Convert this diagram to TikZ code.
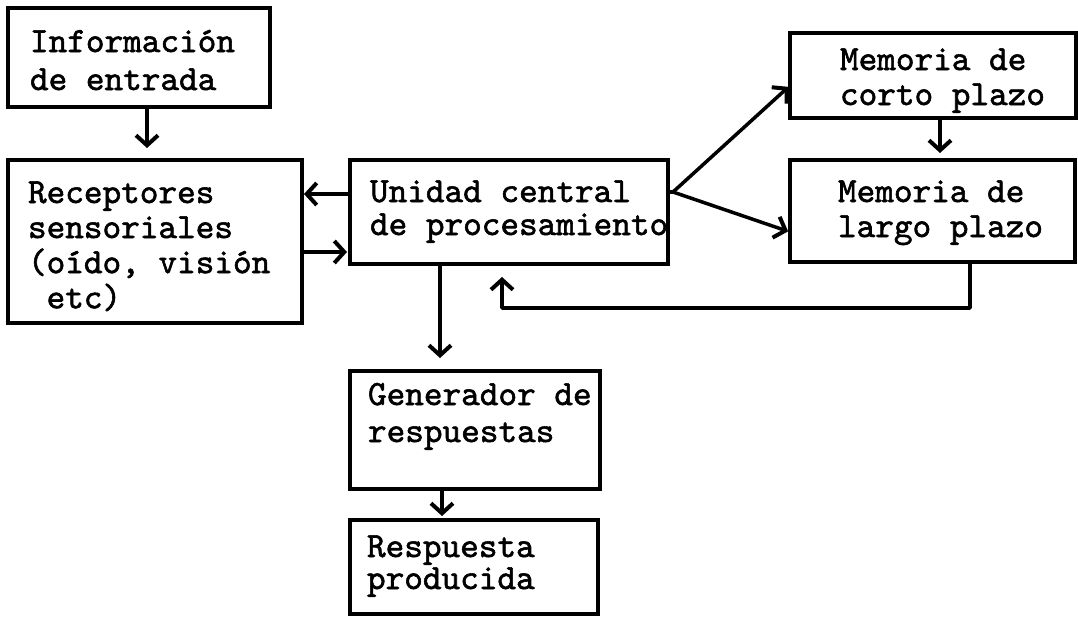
\documentclass[tikz,border=0pt]{standalone}
\usepackage{fontspec}
\newfontfamily\tw{lmmono10-regular.otf}[FakeBold=1.6]
\usetikzlibrary{arrows.meta,calc}
\newcommand\txtlines[2]{{\tw\fontsize{35.5}{#1}\selectfont\begin{tabular}[t]{@{}l@{}}#2\end{tabular}}}
\tikzset{
  boxnode/.style={draw, line width=3.5pt, inner sep=0pt, outer sep=0pt, anchor=north west},
  lbl/.style={anchor=base west, inner sep=0pt, outer sep=0pt},
  arr/.style={line width=3.5pt, line cap=round, line join=round, -{Straight Barb[length=10pt,width=22pt,line width=4pt]}},
  ln/.style={line width=3.5pt, line cap=round, line join=round}
}
\begin{document}
\begin{tikzpicture}[x=1pt,y=-1pt]
\useasboundingbox (0,0) rectangle (1078,622);
% boxes
\node[boxnode, minimum width=262pt, minimum height=99pt] (b1) at (8,8) {};
\node[boxnode, minimum width=294pt, minimum height=163pt] (rec) at (8,160) {};
\node[boxnode, minimum width=318pt, minimum height=104pt] (uc) at (350,160) {};
\node[boxnode, minimum width=286pt, minimum height=85pt] (mc) at (790,33) {};
\node[boxnode, minimum width=285pt, minimum height=102pt] (ml) at (790,160) {};
\node[boxnode, minimum width=250pt, minimum height=118pt] (gen) at (350,371) {};
\node[boxnode, minimum width=248pt, minimum height=94pt] (resp) at (350,520) {};
% texts
\node[lbl] (t1) at (30,52) {\txtlines{38pt}{Información\\de entrada}};
\node[lbl] (t2) at (28,203) {\txtlines{35pt}{Receptores\\sensoriales\\(oído, visión\\\hspace*{18.6pt}etc)}};
\node[lbl] (t3) at (370,202) {\txtlines{33pt}{Unidad central\\de procesamiento}};
\node[lbl] (t4) at (840,70) {\txtlines{35pt}{Memoria de\\corto plazo}};
\node[lbl] (t5) at (838,202) {\txtlines{35pt}{Memoria de\\largo plazo}};
\node[lbl] (t6) at (368,405) {\txtlines{37pt}{Generador de\\respuestas}};
\node[lbl] (t7) at (367,557) {\txtlines{32pt}{Respuesta\\producida}};
% helper coordinates
\coordinate (xa) at (147,0);
\coordinate (ya) at (0,194);
\coordinate (yb) at (0,252);
\coordinate (xc) at (440,0);
\coordinate (xd) at (442,0);
\coordinate (br) at (673,192);
\coordinate (xe) at (940,0);
\coordinate (fb1) at (970,308);
\coordinate (fb2) at (502,308);
% connectors
\draw[arr, shorten >=12pt] (b1.south -| xa) -- (rec.north -| xa);
\draw[arr, shorten >=2pt] (uc.west |- ya) -- (rec.east |- ya);
\draw[arr, shorten >=3pt] (rec.east |- yb) -- (uc.west |- yb);
\draw[arr, shorten >=13pt] (uc.south -| xc) -- (gen.north -| xc);
\draw[arr, shorten >=4pt] (gen.south -| xd) -- (resp.north -| xd);
\draw[ln] (uc.east |- br) -- (br);
\draw[arr, shorten >=2pt] (br) -- ([yshift=-10pt]mc.west);
\draw[arr, shorten >=2pt] (br) -- ([yshift=-21pt]ml.west);
\draw[arr, shorten >=7pt] (mc.south -| xe) -- (ml.north -| xe);
\draw[arr, shorten >=13pt] (ml.south -| fb1) -- (fb1) -- (fb2) -- (uc.south -| fb2);
\end{tikzpicture}
\end{document}
